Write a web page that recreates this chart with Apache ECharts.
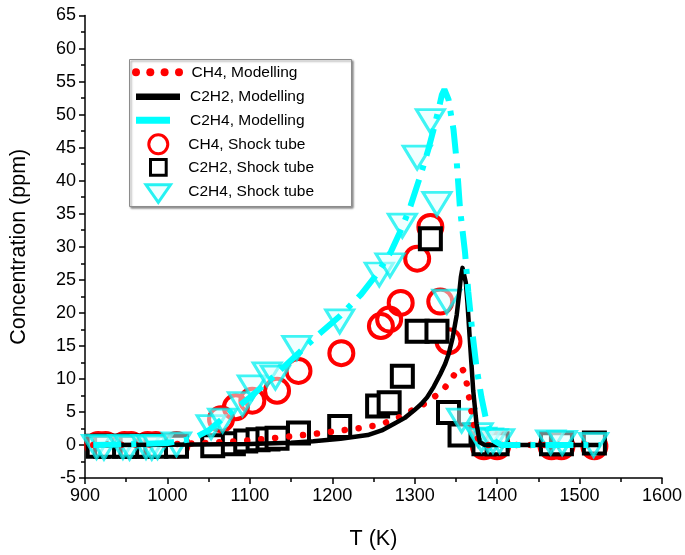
<!DOCTYPE html>
<html>
<head>
<meta charset="utf-8">
<script src="https://cdn.jsdelivr.net/npm/echarts@6/dist/echarts.min.js"></script>
<style>
html,body{margin:0;padding:0;background:#fff;}
#chart{width:685px;height:555px;}
</style>
</head>
<body>
<div id="chart"></div>
<script>
// ---------------- data ----------------
const seriesNames = ['CH4, Modelling','C2H2, Modelling','C2H4, Modelling','CH4, Shock tube','C2H2, Shock tube','C2H4, Shock tube'];

const xTicks = [900,1000,1100,1200,1300,1400,1500,1600];
const yTicks = [-5,0,5,10,15,20,25,30,35,40,45,50,55,60,65];

// Modelling curves
const ch4ModelT = [910,1000,1050,1100,1150,1180,1205,1230,1250,1265,1280,1292,1305,1317,1327,1336,1343,1349,1354,1357,1360,1363,1366,1369,1372,1375,1379,1385,1525];
const ch4ModelC = [0,0.1,0.3,0.7,1.3,1.7,2.1,2.5,2.9,3.4,4.1,4.9,5.8,6.6,7.6,8.6,9.7,10.8,11.5,11.7,11,9.4,7.2,5,3,1.5,0.3,0,0];

const c2h2ModelT = [910,1000,1100,1150,1177,1210,1243,1260,1275,1288,1299,1308,1315,1323,1331,1337,1341,1346,1351,1354,1356,1358,1360,1362,1364,1367,1371,1375,1379,1385,1525];
const c2h2ModelC = [0,0.05,0.15,0.35,0.55,0.95,1.5,2.2,3.2,4.1,5.2,6.2,7.2,8.8,10.7,12.3,13.7,16.2,19.7,23,25.4,26.8,26.5,24.6,21.5,15.7,8.2,3.2,0.4,0,0];

const c2h4ModelT = [910,950,1000,1030,1050,1070,1100,1130,1160,1183,1210,1235,1255,1271,1285,1295,1307,1316,1323,1329,1333,1336,1338,1341,1344,1347,1351,1355,1361,1365,1370,1375,1381,1386,1391,1397,1405,1525];
const c2h4ModelC = [0,0.1,0.3,0.9,2.2,4.3,7.2,10.5,14,16.7,19.6,22.8,26,29.2,33,36.2,40.8,44.5,47.8,50.8,53,53.8,54,52.3,50,47.8,42.8,35.7,29.2,23.2,17,11.7,7.2,4.2,2.2,0.6,0,0];

// Shock tube measurements
const ch4ExpT = [916,925,948,956,976,986,1011,1065,1083,1103,1133,1159,1211,1259,1269,1283,1303,1319,1331,1341,1384,1400,1466,1478,1518];
const ch4ExpC = [0,0,0,0,0,0,0,3.9,5.7,6.7,8.2,11.2,13.9,18,19,21.5,28.2,33,21.7,15.7,-0.2,-0.2,-0.2,-0.2,-0.2];

const c2h2ExpT = [916,925,948,956,976,986,1011,1055,1080,1095,1110,1122,1133,1159,1209,1255,1269,1285,1303,1319,1327,1341,1355,1384,1400,1466,1478,1518];
const c2h2ExpC = [-0.2,-0.2,-0.2,-0.2,-0.2,-0.2,-0.2,-0.1,0.2,0.6,0.8,0.9,1.0,1.8,2.8,5.9,6.4,10.4,17.2,31.2,17.2,4.9,1.5,0.2,0.2,0.2,0.2,0.3];

const c2h4ExpT = [914,923,946,954,974,981,988,1011,1053,1067,1091,1103,1121,1131,1157,1209,1257,1270,1285,1303,1319,1327,1339,1357,1377,1381,1389,1395,1403,1465,1479,1517];
const c2h4ExpC = [-0.3,-0.4,-0.3,-0.4,-0.3,-0.4,-0.3,0.1,2.7,3.7,6.2,8.7,10.7,10.2,14.7,18.7,25.8,27.2,33.2,43.5,49,36.5,21.7,3.7,1.5,0.8,0.7,0.6,0.6,0.4,0.3,0];

// ---------------- chart ----------------
const zip = (a, b) => a.map((v, i) => [v, b[i]]);
const FONT = 'Liberation Sans, Arial, sans-serif';
const chart = echarts.init(document.getElementById('chart'), null, {renderer: 'canvas'});

const option = {
  animation: false,
  backgroundColor: '#fff',
  grid: {left: 84, right: 15, top: 15.5, bottom: 74, containLabel: false},
  xAxis: {
    type: 'value', min: xTicks[0], max: xTicks[xTicks.length - 1], interval: 100,
    name: 'T (K)', nameLocation: 'middle', nameGap: 50,
    nameTextStyle: {fontFamily: FONT, fontSize: 21.5, color: '#000'},
    axisLine: {show: true, onZero: false, lineStyle: {color: '#000', width: 1.5}},
    axisTick: {show: true, inside: false, length: 6, lineStyle: {color: '#000', width: 1.5}},
    minorTick: {show: true, splitNumber: 2, length: 4, lineStyle: {color: '#000', width: 1.5}},
    axisLabel: {fontFamily: FONT, fontSize: 18, color: '#000', margin: 9, formatter: v => String(v)},
    splitLine: {show: false}
  },
  yAxis: {
    type: 'value', min: yTicks[0], max: yTicks[yTicks.length - 1], interval: 5,
    name: 'Concentration (ppm)', nameLocation: 'middle', nameGap: 55,
    nameTextStyle: {fontFamily: FONT, fontSize: 21.5, color: '#000'},
    axisLine: {show: true, onZero: false, lineStyle: {color: '#000', width: 1.5}},
    axisTick: {show: true, inside: false, length: 6, lineStyle: {color: '#000', width: 1.5}},
    minorTick: {show: true, splitNumber: 2, length: 4, lineStyle: {color: '#000', width: 1.5}},
    axisLabel: {fontFamily: FONT, fontSize: 18, color: '#000', margin: 9, formatter: v => String(v)},
    splitLine: {show: false}
  },
  series: [
    {
      name: seriesNames[0], type: 'line', data: zip(ch4ModelT, ch4ModelC),
      showSymbol: false, symbol: 'none', smooth: false,
      lineStyle: {color: '#ff0000', width: 6.5, type: [0.01, 14], cap: 'round'}
    },
    {
      name: seriesNames[1], type: 'line', data: zip(c2h2ModelT, c2h2ModelC),
      showSymbol: false, symbol: 'none', smooth: false,
      lineStyle: {color: '#000', width: 4.5, join: 'round'}
    },
    {
      name: seriesNames[2], type: 'line', data: zip(c2h4ModelT, c2h4ModelC),
      showSymbol: false, symbol: 'none', smooth: false,
      lineStyle: {color: '#00ffff', width: 6, type: [28, 10, 5, 10]}
    },
    {
      name: seriesNames[3], type: 'scatter', data: zip(ch4ExpT, ch4ExpC),
      symbol: 'circle', symbolSize: 24,
      itemStyle: {color: 'rgba(255,255,255,0)', borderColor: '#ff0000', borderWidth: 4, opacity: 1}
    },
    {
      name: seriesNames[4], type: 'scatter', data: zip(c2h2ExpT, c2h2ExpC),
      symbol: 'rect', symbolSize: 21,
      itemStyle: {color: '#fff', borderColor: '#000', borderWidth: 4, opacity: 1}
    },
    {
      name: seriesNames[5], type: 'scatter', data: zip(c2h4ExpT, c2h4ExpC),
      symbol: 'triangle', symbolRotate: 180, symbolSize: [28, 23],
      itemStyle: {color: 'rgba(225,255,255,0.5)', borderColor: 'rgba(0,240,240,0.75)', borderWidth: 3, opacity: 1}
    }
  ],
  graphic: [
    {type: 'rect', z: 100, shape: {x: 129.5, y: 59.5, width: 222, height: 147},
     style: {fill: '#fff', stroke: '#8c8c8c', lineWidth: 1, shadowBlur: 2, shadowOffsetX: 1.5, shadowOffsetY: 1.5, shadowColor: 'rgba(0,0,0,0.45)'}},
    {type: 'circle', z: 101, shape: {cx: 136, cy: 72.3, r: 4}, style: {fill: '#ff0000'}},
    {type: 'circle', z: 101, shape: {cx: 150.3, cy: 72.3, r: 4}, style: {fill: '#ff0000'}},
    {type: 'circle', z: 101, shape: {cx: 164.6, cy: 72.3, r: 4}, style: {fill: '#ff0000'}},
    {type: 'circle', z: 101, shape: {cx: 179, cy: 72.3, r: 4}, style: {fill: '#ff0000'}},
    {type: 'rect', z: 101, shape: {x: 136, y: 93.4, width: 44, height: 6.7}, style: {fill: '#000'}},
    {type: 'rect', z: 101, shape: {x: 136, y: 116.8, width: 34, height: 7}, style: {fill: '#00ffff'}},
    {type: 'circle', z: 101, shape: {cx: 158.3, cy: 144.3, r: 9.5}, style: {fill: 'none', stroke: '#ff0000', lineWidth: 3}},
    {type: 'rect', z: 101, shape: {x: 150.5, y: 159.6, width: 15.7, height: 15.7}, style: {fill: '#fff', stroke: '#000', lineWidth: 3}},
    {type: 'polygon', z: 101, shape: {points: [[146, 184.8], [170.5, 184.8], [158.3, 202.3]]}, style: {fill: 'rgba(225,255,255,0.6)', stroke: 'rgba(0,240,240,0.85)', lineWidth: 3}},
    {type: 'text', z: 102, style: {text: seriesNames[0], x: 191.5, y: 72.5, fill: '#000', font: '15.5px ' + FONT, verticalAlign: 'middle', align: 'left'}},
    {type: 'text', z: 102, style: {text: seriesNames[1], x: 190, y: 96.5, fill: '#000', font: '15.5px ' + FONT, verticalAlign: 'middle', align: 'left'}},
    {type: 'text', z: 102, style: {text: seriesNames[2], x: 190, y: 120.3, fill: '#000', font: '15.5px ' + FONT, verticalAlign: 'middle', align: 'left'}},
    {type: 'text', z: 102, style: {text: seriesNames[3], x: 188.3, y: 144.3, fill: '#000', font: '15.5px ' + FONT, verticalAlign: 'middle', align: 'left'}},
    {type: 'text', z: 102, style: {text: seriesNames[4], x: 188.3, y: 167.8, fill: '#000', font: '15.5px ' + FONT, verticalAlign: 'middle', align: 'left'}},
    {type: 'text', z: 102, style: {text: seriesNames[5], x: 188.3, y: 191.3, fill: '#000', font: '15.5px ' + FONT, verticalAlign: 'middle', align: 'left'}}
  ]
};
chart.setOption(option);
</script>
</body>
</html>
